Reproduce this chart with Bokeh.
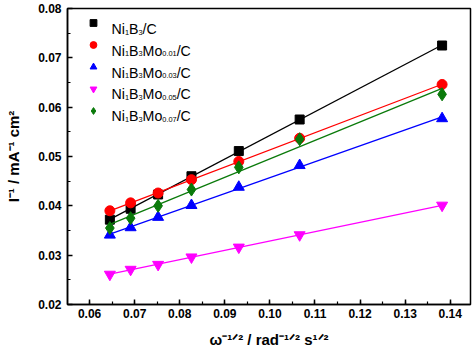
import numpy as np
from bokeh.plotting import figure
from bokeh.models import (Range1d, SingleIntervalTicker, NumeralTickFormatter,
                          Label, Legend, LegendItem)
from bokeh.embed import file_html
from bokeh.resources import INLINE

# ---- data ----
x_vals = [0.0645, 0.0691, 0.0752, 0.0826, 0.0931, 0.1066, 0.1382]
y_b3 = [0.0372, 0.0394, 0.0423, 0.0460, 0.0511, 0.0575, 0.0725]
y_mo001 = [0.0390, 0.0406, 0.0426, 0.0453, 0.0490, 0.0537, 0.0646]
y_mo003 = [0.0341, 0.0356, 0.0377, 0.0401, 0.0438, 0.0482, 0.0577]
y_mo005 = [0.0261, 0.0271, 0.0281, 0.0296, 0.0316, 0.0341, 0.0401]
y_mo007 = [0.0355, 0.0375, 0.0400, 0.0433, 0.0478, 0.0535, 0.0626]
sub_labels = ["", "0.01", "0.03", "0.05", "0.07"]
x_title = "ω⁻¹ᐟ² / rad⁻¹ᐟ² s¹ᐟ²"
y_title = "I⁻¹ / mA⁻¹ cm²"

series = [
    (y_b3, "#000000", "square", 9),
    (y_mo001, "#ff0000", "circle", 10),
    (y_mo003, "#0000ff", "triangle", 11),
    (y_mo005, "#ff00ff", "inverted_triangle", 11),
    (y_mo007, "#0a7a0a", "diamond", 13),
]

FL, FR, FT, FB = 67, 4, 8, 49
W, H = 474, 353
p = figure(width=W, height=H, output_backend="svg", toolbar_location=None,
           x_range=Range1d(0.0551, 0.1445), y_range=Range1d(0.02, 0.08),
           min_border_left=FL, min_border_right=FR, min_border_top=FT,
           min_border_bottom=FB)
p.grid.visible = False
p.outline_line_color = "black"
p.outline_line_width = 1.5
p.background_fill_color = "white"
p.border_fill_color = "white"

p.xaxis.ticker = SingleIntervalTicker(interval=0.01, num_minor_ticks=2)
p.yaxis.ticker = SingleIntervalTicker(interval=0.01, num_minor_ticks=2)
for ax in (p.xaxis[0], p.yaxis[0]):
    ax.formatter = NumeralTickFormatter(format="0.00")
    ax.major_tick_in = 5
    ax.major_tick_out = 0
    ax.minor_tick_in = 3
    ax.minor_tick_out = 0
    ax.axis_line_width = 1.5
    ax.major_tick_line_width = 1.5
    ax.minor_tick_line_width = 1.2
    ax.major_label_text_font = "Liberation Sans"
    ax.major_label_text_font_style = "bold"
    ax.major_label_text_font_size = "12px"
    ax.major_label_text_color = "black"
    ax.axis_label_text_font = "Liberation Sans"
    ax.axis_label_text_font_style = "bold"
    ax.axis_label_text_font_size = "15px"
    ax.axis_label_text_color = "black"
p.xaxis.major_label_standoff = 4
p.yaxis.major_label_standoff = 6
p.xaxis.axis_label = x_title
p.yaxis.axis_label = y_title
p.xaxis.axis_label_standoff = 10
p.yaxis.axis_label_standoff = 13

items = []
for ys, col, mk, sz in series:
    k, b = np.polyfit(x_vals, ys, 1)
    xf = [x_vals[0], x_vals[-1]]
    p.line(xf, [k * xx + b for xx in xf], line_color=col, line_width=1.3)
    r = p.scatter(x_vals, ys, marker=mk, size=sz, fill_color=col,
                  line_color=col)
    items.append(LegendItem(label=" ", renderers=[r]))

leg = Legend(items=items, location="top_left", margin=6, padding=0,
             glyph_width=40, glyph_height=17, label_height=17, spacing=5,
             label_text_font_size="1px", border_line_color=None,
             background_fill_alpha=0, label_standoff=0)
p.add_layout(leg)

# ---- rich text helper (legend labels, inside the frame) ----
REG = {'N': 722, 'i': 222, 'B': 667, 'M': 833, 'o': 556, '/': 278, 'C': 722,
       '.': 278, ' ': 278}


def tw(text, size):
    return sum(REG.get(ch, 556) for ch in text) * size / 1000.0


def rich(segs, fx, fy, F, small=0.52, sub=0.22):
    pos = 0.0
    for t, k in segs:
        size = F if k == 'n' else F * small
        off = -sub * F if k == 'sub' else 0.0
        p.add_layout(Label(x=fx + pos, y=fy + off, x_units="screen",
                           y_units="screen", text=t,
                           text_font="Liberation Sans",
                           text_font_size=f"{size:.1f}px",
                           text_color="black", text_baseline="alphabetic",
                           text_align="left"))
        pos += tw(t, size)


for i, s in enumerate(sub_labels):
    segs = [("Ni", 'n'), ("1", 'sub'), ("B", 'n'), ("3", 'sub')]
    if s:
        segs += [("Mo", 'n'), (s, 'sub')]
    segs += [("/C", 'n')]
    base = 28.5 + 21.8 * i
    rich(segs, 111 - FL, (H - FB) - base, 14.2)

open("out.html", "w").write(file_html(p, INLINE))
